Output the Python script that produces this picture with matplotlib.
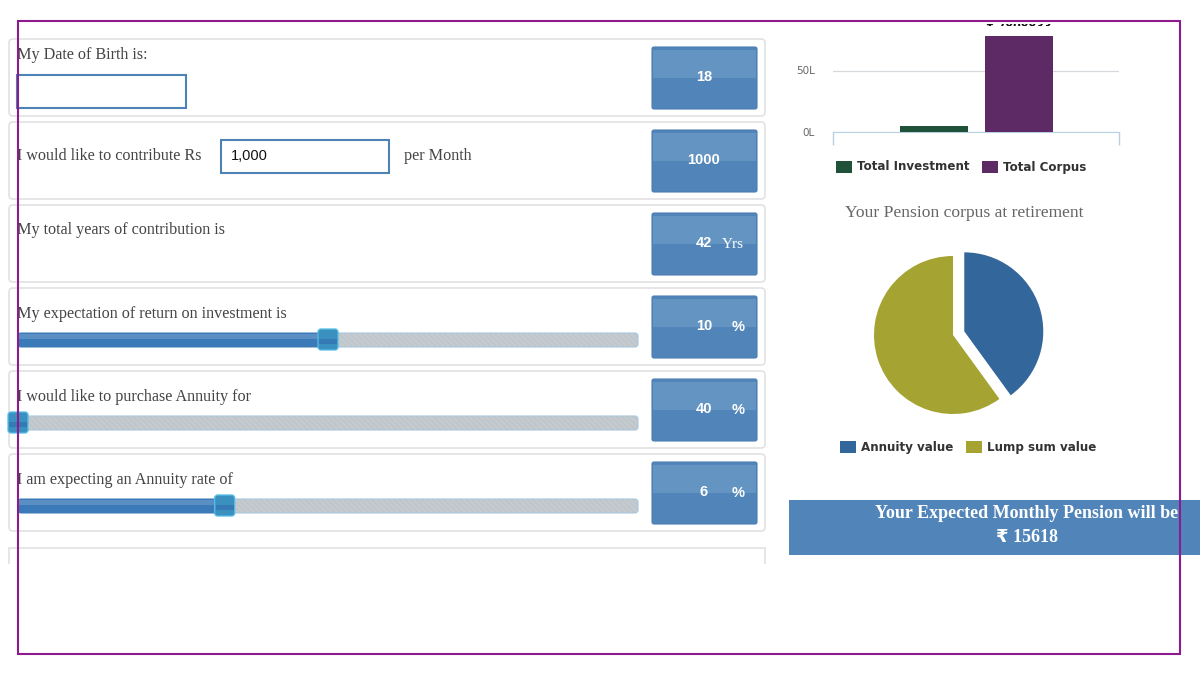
import matplotlib
matplotlib.use("Agg")
import matplotlib.pyplot as plt
import matplotlib.patheffects as pe
from matplotlib.patches import FancyBboxPatch, Rectangle

plt.rcParams["hatch.linewidth"] = 0.6

W, H = 1200, 675

# form rows
row_labels = [
    "My Date of Birth is:",
    "I would like to contribute Rs",
    "My total years of contribution is",
    "My expectation of return on investment is",
    "I would like to purchase Annuity for",
    "I am expecting an Annuity rate of",
]
box_values = ["18", "1000", "42", "10", "40", "6"]
box_units = ["", "", "Yrs", "%", "%", "%"]
contribution = "1,000"

# sliders
slider_values = [10, 40, 6]
slider_mins = [0, 40, 0]
slider_maxs = [20, 100, 18]

# bar chart
bar_labels = ["Total Investment", "Total Corpus"]
bar_values = [504000, 7808833]
bar_colors = ["#1f5239", "#5e2a66"]
bar_ticks = [0, 5000000]
bar_ticklabels = ["0L", "50L"]

# pie chart
pie_labels = ["Annuity value", "Lump sum value"]
pie_values = [3123533, 4685300]
pie_colors = ["#33669b", "#a5a331"]
pie_title = "Your Pension corpus at retirement"

banner_lines = ["Your Expected Monthly Pension will be", "₹ 15618"]

SERIF = "Liberation Serif"
SANS = "DejaVu Sans"
BLUE = "#5185ba"
TEXT = "#444444"


def px_axes(fig, left, top, right, bottom):
    return fig.add_axes([left / W, 1 - bottom / H, (right - left) / W, (bottom - top) / H])


def rounded(ax, x0, y0, x1, y1, r, **kw):
    p = FancyBboxPatch((x0 + r, y0 + r), x1 - x0 - 2 * r, y1 - y0 - 2 * r,
                       boxstyle=f"round,pad={r},rounding_size={r}", **kw)
    ax.add_patch(p)
    return p


fig = plt.figure(figsize=(W / 100, H / 100), dpi=100, facecolor="white")

ui = fig.add_axes([0, 0, 1, 1])
ui.set_xlim(0, W)
ui.set_ylim(H, 0)
ui.axis("off")

row_tops = [39, 122, 205, 288, 371, 454]
label_y = [55, 156, 230, 314, 397, 480]
for i, top in enumerate(row_tops):
    rounded(ui, 9, top, 765, top + 77, 4, facecolor="white", edgecolor="#e2e2e2", lw=1.2)
    ui.text(17, label_y[i], row_labels[i], family=SERIF, fontsize=11.6, color=TEXT,
            va="center", ha="left")

    # value box, lighter on its upper half
    box_top = top + 8
    rounded(ui, 652, box_top, 757, box_top + 62, 2, facecolor=BLUE, edgecolor="#4a7fb4", lw=0.8)
    ui.add_patch(Rectangle((653, box_top + 3), 103, 28, facecolor="#6494c1", lw=0))
    value_x = 704 if box_units[i] == "" else 704
    ui.text(value_x, box_top + 30, box_values[i], family="Liberation Sans", fontweight="bold",
            fontsize=10.5, color="white", ha="center", va="center")
    if box_units[i] == "Yrs":
        ui.text(733, box_top + 31, box_units[i], family=SERIF, fontsize=11, color="white",
                ha="center", va="center")
    elif box_units[i]:
        ui.text(738, box_top + 31, box_units[i], family="Liberation Sans", fontweight="bold",
                fontsize=10.5, color="white", ha="center", va="center")

# last row, cut off by the screenshot
ui.add_patch(Rectangle((9, 548), 756, 30, facecolor="white", edgecolor="#e2e2e2", lw=1.2))
ui.add_patch(Rectangle((0, 564), 800, 40, facecolor="white", lw=0))

# input fields
ui.add_patch(Rectangle((17, 75), 169, 33, facecolor="white", edgecolor="#4d82b5", lw=1.5))
ui.add_patch(Rectangle((221, 140), 168, 33, facecolor="white", edgecolor="#4d82b5", lw=1.5))
ui.text(231, 156, contribution, family="Liberation Sans", fontsize=10.5, color="#111111", va="center")
ui.text(404, 156, "per Month", family=SERIF, fontsize=11.6, color=TEXT, va="center")

# sliders
track_x0, track_x1 = 18, 638
slider_tops = [333, 416, 499]
for val, lo, hi, top in zip(slider_values, slider_mins, slider_maxs, slider_tops):
    pos = track_x0 + (val - lo) / (hi - lo) * (track_x1 - track_x0)
    rounded(ui, track_x0, top, track_x1, top + 14, 3, facecolor="#c9c9c9", edgecolor="#a9c7de",
            lw=0.8, hatch="\\\\\\\\\\\\")
    if pos > track_x0:
        rounded(ui, track_x0, top, pos, top + 14, 3, facecolor="#3a7ab8", edgecolor="#3a7ab8", lw=0.5)
        ui.add_patch(Rectangle((track_x0 + 1, top + 1), pos - track_x0 - 2, 5, facecolor="#5b8fc4", lw=0))
    rounded(ui, pos - 10, top - 4, pos + 10, top + 17, 3, facecolor="#3a90bf", edgecolor="#55bde6", lw=0.9)
    ui.add_patch(Rectangle((pos - 9, top + 6), 18, 5, facecolor="#3579b5", lw=0))

# pie title, legends
ui.text(964, 213, pie_title, family=SERIF, fontsize=12.6, color="#666666", ha="center", va="center")


def legend(ax, items, y):
    for x, label, color in items:
        ax.add_patch(Rectangle((x, y - 6), 16, 12, facecolor=color, lw=0))
        ax.text(x + 21, y, label, family=SANS, fontsize=8.6, fontweight="bold",
                color="#333333", va="center")


legend(ui, [(836, bar_labels[0], bar_colors[0]), (982, bar_labels[1], bar_colors[1])], 167)
legend(ui, [(840, pie_labels[0], pie_colors[0]), (966, pie_labels[1], pie_colors[1])], 447)

# bar chart, clipped at the top as in the screenshot
bar_ax = px_axes(fig, 833, 26, 1119, 132)
bar_ax.patch.set_alpha(0)
px_per_unit = 61.5 / 5000000
bar_ax.set_ylim(0, 106 / px_per_unit)
bar_ax.set_xlim(-1.688, 1.676)
bars = bar_ax.bar([-0.5, 0.5], bar_values, width=0.8, color=bar_colors, zorder=3)
bar_ax.set_yticks(bar_ticks)
bar_ax.set_yticklabels(bar_ticklabels, family=SANS, fontsize=7.5, color="#666666")
bar_ax.set_xticks([-1.688, 1.676])
bar_ax.set_xticklabels([])
bar_ax.tick_params(axis="y", length=0, pad=13)
bar_ax.tick_params(axis="x", length=9, color="#b9d0e2", width=1)
bar_ax.grid(axis="y", color="#d5d9dd", lw=0.9, zorder=0)
for side in ["top", "left", "right"]:
    bar_ax.spines[side].set_visible(False)
bar_ax.spines["bottom"].set_color("#b9d0e2")
for b, v in zip(bars, bar_values):
    t = bar_ax.annotate(f"₹ {v}", (b.get_x() + b.get_width() / 2, v), xytext=(0, 3),
                        textcoords="offset points", ha="center", va="bottom",
                        family=SANS, fontsize=8, fontweight="bold", color="#111111",
                        annotation_clip=False)
    t.set_clip_path(Rectangle((833, H - 26), 300, 30, transform=fig.dpi_scale_trans.inverted() + fig.dpi_scale_trans))
    t.set_clip_on(True)
# hide the part of the clipped label above the frame
ui_top = fig.add_axes([0, 0, 1, 1])
ui_top.set_xlim(0, W)
ui_top.set_ylim(H, 0)
ui_top.axis("off")
ui_top.add_patch(Rectangle((960, 0), 120, 24, facecolor="white", lw=0))

# pie chart
R = 79
pie_ax = px_axes(fig, 953 - 1.5 * R, 335 - 1.5 * R, 953 + 1.5 * R, 335 + 1.5 * R)
pie_ax.patch.set_alpha(0)
pie_ax.pie(pie_values, colors=pie_colors, startangle=90, counterclock=False,
           explode=[0.15, 0], radius=1)
pie_ax.set_xlim(-1.5, 1.5)
pie_ax.set_ylim(-1.5, 1.5)

glow = [pe.withStroke(linewidth=2.5, foreground="#22222299")]
ui_top.text(1011, 319, f"₹ {pie_values[0]}", family=SANS, fontsize=7.6, color="white",
            ha="center", va="center", path_effects=glow)
ui_top.text(916, 349, f"₹ {pie_values[1]}", family=SANS, fontsize=7.6, color="white",
            ha="center", va="center", path_effects=glow)

# pension banner
ui_top.add_patch(Rectangle((789, 500), 411, 55, facecolor=BLUE, lw=0))
shadow = [pe.withSimplePatchShadow(offset=(0.8, -0.8), shadow_rgbFace="#222222", alpha=0.5), pe.Normal()]
ui_top.text(1027, 514, banner_lines[0], family=SERIF, fontsize=13, fontweight="bold", color="white",
            ha="center", va="center")
ui_top.text(1027, 538, banner_lines[1], family=[SERIF, SANS], fontsize=13, fontweight="bold", color="white",
            ha="center", va="center")

# purple frame over everything
ui_top.add_patch(Rectangle((18, 21), 1162, 633, facecolor="none", edgecolor="#8e1a8e", lw=1.5, zorder=10))

fig.savefig("out.png", dpi=100)
plt.close(fig)
